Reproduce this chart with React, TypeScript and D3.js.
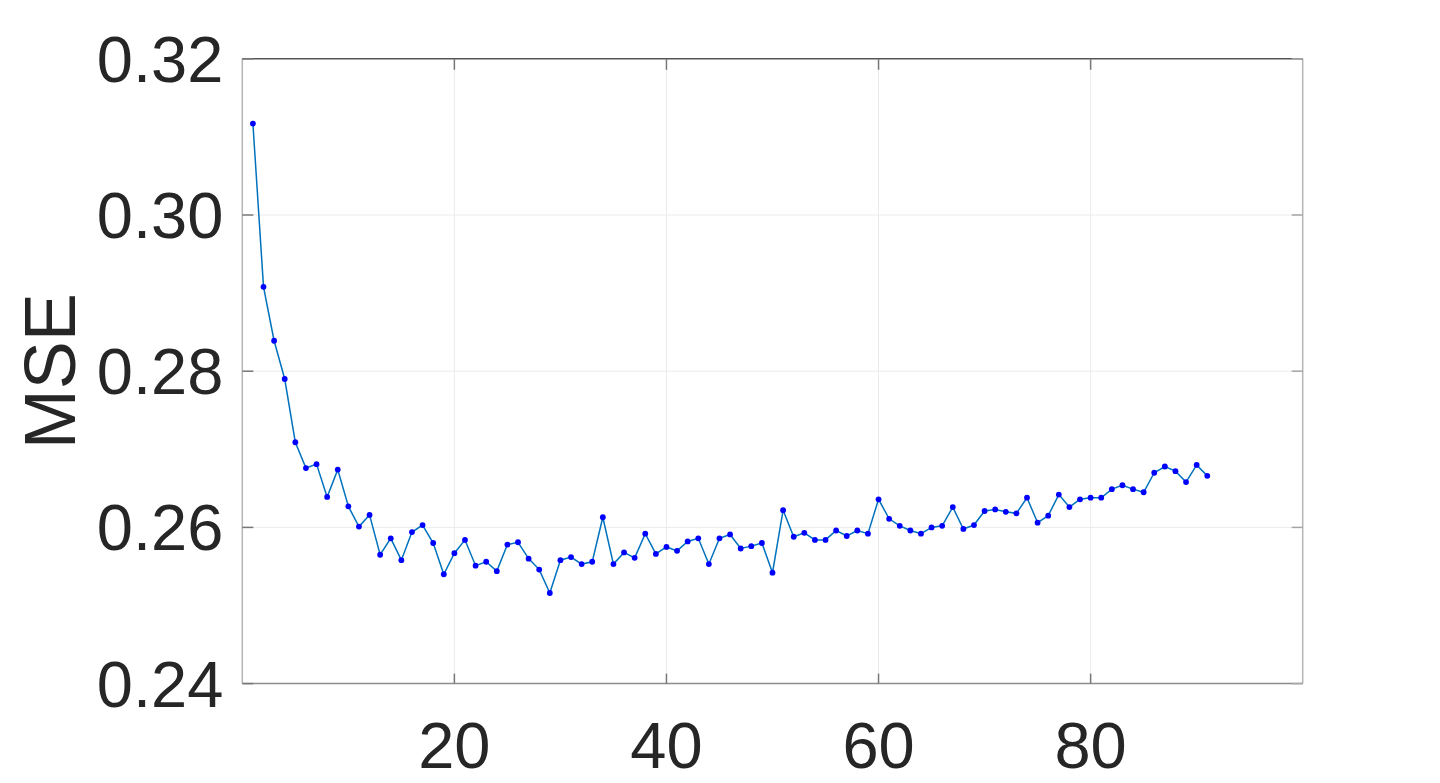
import React from "react";
import * as d3 from "d3";

// MSE per iteration
const mse = [
  0.3117, 0.2908, 0.2839, 0.279, 0.2709, 0.2676, 0.2681, 0.2639, 0.2674, 0.2627,
  0.2601, 0.2616, 0.2565, 0.2586, 0.2558, 0.2594, 0.2603, 0.258, 0.254, 0.2567,
  0.2584, 0.2551, 0.2556, 0.2544, 0.2578, 0.2581, 0.256, 0.2546, 0.2516, 0.2558,
  0.2562, 0.2553, 0.2556, 0.2613, 0.2553, 0.2568, 0.2561, 0.2592, 0.2566, 0.2575,
  0.257, 0.2582, 0.2586, 0.2553, 0.2586, 0.2591, 0.2573, 0.2576, 0.258, 0.2542,
  0.2622, 0.2588, 0.2593, 0.2584, 0.2584, 0.2596, 0.2589, 0.2596, 0.2592, 0.2636,
  0.2611, 0.2602, 0.2596, 0.2592, 0.26, 0.2602, 0.2626, 0.2598, 0.2603, 0.2621,
  0.2623, 0.262, 0.2618, 0.2638, 0.2606, 0.2615, 0.2642, 0.2626, 0.2636, 0.2638,
  0.2638, 0.2649, 0.2654, 0.2649, 0.2645, 0.267, 0.2678, 0.2672, 0.2658, 0.268,
  0.2666,
];
const xTicks = [20, 40, 60, 80];
const yTicks = [0.24, 0.26, 0.28, 0.3, 0.32];

const App = () => {
  const width = 1440;
  const height = 783;
  const left = 242.3;
  const right = 1302.7;
  const top = 58.8;
  const bottom = 683.6;

  const x = d3.scaleLinear().domain([0, 100]).range([left, right]);
  const y = d3.scaleLinear().domain([0.24, 0.32]).range([bottom, top]);

  const line = d3
    .line<number>()
    .x((d, i) => x(i + 1))
    .y(d => y(d));

  const font = "'Liberation Sans', Arial, Helvetica, sans-serif";

  return (
    <svg
      width={width}
      height={height}
      style={{ position: "absolute", left: 0, top: 0, background: "#fff" }}
    >
      <g stroke="#ebebeb" strokeWidth={1}>
        {xTicks.map(t => (
          <line key={"gx" + t} x1={x(t)} x2={x(t)} y1={top} y2={bottom} />
        ))}
        {yTicks.slice(1, -1).map(t => (
          <line key={"gy" + t} x1={left} x2={right} y1={y(t)} y2={y(t)} />
        ))}
      </g>

      {/* box: left/right lighter, bottom mid, top dark */}
      <g strokeWidth={1.5}>
        <line x1={left} x2={left} y1={top} y2={bottom} stroke="#b5b5b5" />
        <line x1={right} x2={right} y1={top} y2={bottom} stroke="#b5b5b5" />
        <line x1={left} x2={right} y1={bottom} y2={bottom} stroke="#8c8c8c" />
        <line x1={left} x2={right} y1={top} y2={top} stroke="#555" />
      </g>

      <g stroke="#777" strokeWidth={1.5}>
        {yTicks.map(t => (
          <g key={"ty" + t}>
            <line x1={left} x2={left + 11} y1={y(t)} y2={y(t)} />
            <line x1={right} x2={right - 11} y1={y(t)} y2={y(t)} stroke="#a5a5a5" />
          </g>
        ))}
        {xTicks.map(t => (
          <g key={"tx" + t}>
            <line x1={x(t)} x2={x(t)} y1={bottom} y2={bottom - 10} />
            <line x1={x(t)} x2={x(t)} y1={top} y2={top + 11} />
          </g>
        ))}
      </g>

      <path d={line(mse) || ""} fill="none" stroke="#0072BD" strokeWidth={1.5} />
      {mse.map((d, i) => (
        <circle key={i} cx={x(i + 1)} cy={y(d)} r={2.9} fill="#0000ff" />
      ))}

      <g fontFamily={font} fontSize={65} fill="#262626">
        {yTicks.map(t => (
          <text key={"ly" + t} x={left - 19} y={y(t) + 23} textAnchor="end">
            {t.toFixed(2)}
          </text>
        ))}
        {xTicks.map(t => (
          <text key={"lx" + t} x={x(t)} y={768} textAnchor="middle">
            {t}
          </text>
        ))}
        <text
          transform={`translate(75,${(top + bottom) / 2}) rotate(-90)`}
          textAnchor="middle"
          fontSize={72}
        >
          MSE
        </text>
      </g>
    </svg>
  );
};

export default App;
